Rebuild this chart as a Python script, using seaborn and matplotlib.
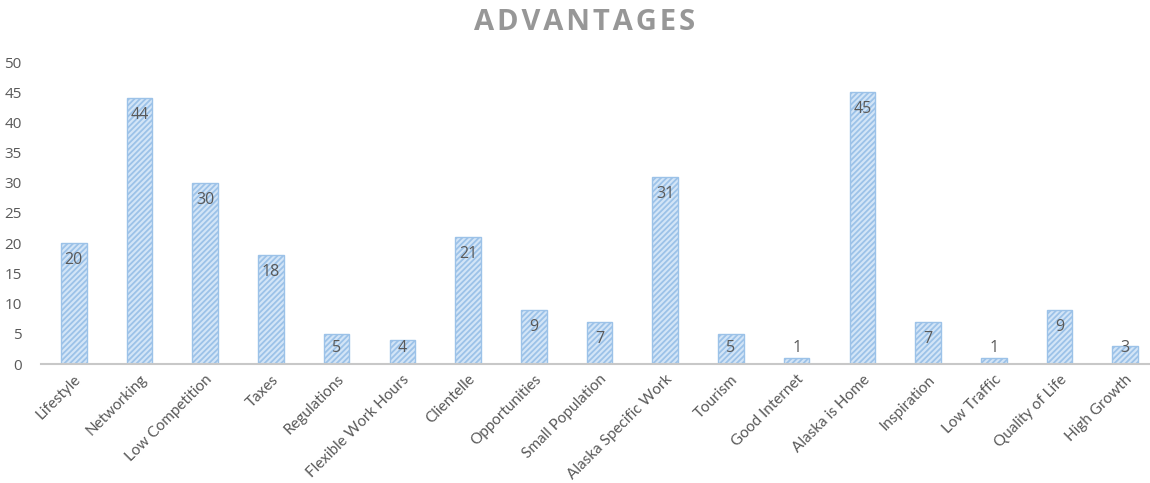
import matplotlib
matplotlib.use("Agg")
import matplotlib.pyplot as plt
import seaborn as sns
import pandas as pd

categories = ["Lifestyle", "Networking", "Low Competition", "Taxes", "Regulations",
              "Flexible Work Hours", "Clientelle", "Opportunities", "Small Population",
              "Alaska Specific Work", "Tourism", "Good Internet", "Alaska is Home",
              "Inspiration", "Low Traffic", "Quality of Life", "High Growth"]
counts = [20, 44, 30, 18, 5, 4, 21, 9, 7, 31, 5, 1, 45, 7, 1, 9, 3]
y_ticks = [0, 5, 10, 15, 20, 25, 30, 35, 40, 45, 50]

sns.set_theme(style="white")
plt.rcParams["font.family"] = ["Open Sans", "DejaVu Sans"]
plt.rcParams["hatch.linewidth"] = 1.3
plt.rcParams["hatch.color"] = "#6FA6DD"

df = pd.DataFrame({"category": categories, "count": counts})

fig = plt.figure(figsize=(11.5, 4.83), dpi=100)
W, H = 1150, 483
ax = fig.add_axes([41 / W, 1 - 364 / H, (1158 - 41) / W, (364 - 62) / H])

sns.barplot(data=df, x="category", y="count", ax=ax, color="#D3E5F7",
            width=0.39, saturation=1)
for p in ax.patches:
    p.set_hatch("//////")
    p.set_edgecolor("#9CC2E8")
    p.set_linewidth(1.0)

grey = "#595959"
for i, v in enumerate(counts):
    ypos = max(v - 2.8, 2.6)
    ax.text(i, ypos, str(v), ha="center", va="center", fontsize=11.5, color=grey)

ax.set_xlim(-0.5, len(categories) - 0.5)
ax.set_ylim(0, 50)
ax.set_yticks(y_ticks)
ax.set_yticklabels([str(t) for t in y_ticks], fontsize=11, color=grey)
ax.set_xlabel("")
ax.set_ylabel("")
ax.tick_params(axis="y", length=0, pad=14)
ax.tick_params(axis="x", length=0, pad=6)
ax.set_xticks(range(len(categories)))
ax.set_xticklabels(categories, rotation=45, ha="right", rotation_mode="anchor",
                   fontsize=11, color=grey, fontfamily=["Lato", "DejaVu Sans"])

for side in ["top", "right", "left"]:
    ax.spines[side].set_visible(False)
ax.spines["bottom"].set_color("#C8C8C8")
ax.spines["bottom"].set_linewidth(1.5)

fig.text(585 / W, 1 - 22 / H, "A\u200aD\u200aV\u200aA\u200aN\u200aT\u200aA\u200aG\u200aE\u200aS",
         ha="center", va="center", fontsize=21, fontweight="bold", color="#979797")

fig.savefig("out.png", dpi=100)
